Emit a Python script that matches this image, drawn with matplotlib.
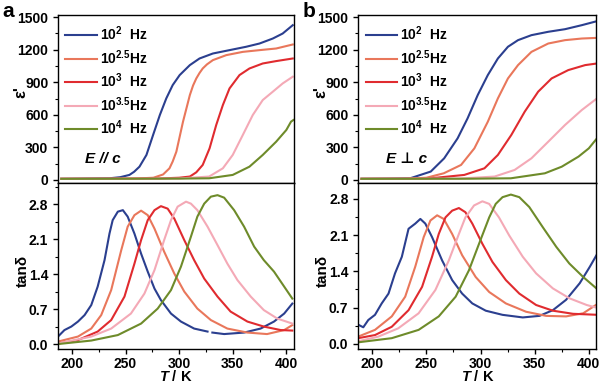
import numpy as np
import matplotlib
matplotlib.use("Agg")
import matplotlib.pyplot as plt
from matplotlib.ticker import MultipleLocator, FormatStrFormatter

plt.rcParams['font.family'] = ['Liberation Sans', 'DejaVu Sans']
plt.rcParams['font.weight'] = 'bold'
plt.rcParams['mathtext.fontset'] = 'custom'
plt.rcParams['mathtext.rm'] = 'Liberation Sans:bold'
plt.rcParams['mathtext.it'] = 'Liberation Sans:italic:bold'
plt.rcParams['mathtext.bf'] = 'Liberation Sans:bold'
plt.rcParams['mathtext.default'] = 'rm'

labels = ["10$^{2}$  Hz", "10$^{2.5}$Hz", "10$^{3}$  Hz", "10$^{3.5}$Hz", "10$^{4}$  Hz"]
colors = ['#2b3f8f', '#e9775b', '#e02b2f', '#f4a9b6', '#6e8b2a']

# ---- panel a, eps' (E // c) ----
a_eps_T = [
    [190, 210, 235, 245, 253.6, 258, 263, 269.5, 275.7, 282, 288, 294, 300.5, 310, 319, 331.5, 347, 362.5, 375, 387.4, 396.6, 406],
    [190, 230, 260, 276, 285, 291, 294, 297.4, 303.6, 310, 313, 316, 319, 322, 326, 331.5, 344, 359.4, 375, 390.5, 406],
    [190, 240, 280, 300, 310, 316, 322, 328.4, 334.6, 340.8, 347, 356.3, 365.6, 378, 390.5, 406],
    [190, 250, 300, 328, 340.8, 350, 359.4, 368.7, 378, 387.4, 396.6, 406],
    [190, 250, 300, 328, 350, 365.6, 378, 390.5, 400, 404.4, 406.6],
]
a_eps = [
    [10, 12, 15, 25, 46, 75, 122, 230, 414, 598, 751, 874, 966, 1058, 1119, 1165, 1196, 1227, 1257, 1303, 1349, 1426],
    [10, 11, 13, 20, 50, 107, 170, 260, 536, 782, 870, 935, 985, 1027, 1065, 1104, 1150, 1180, 1196, 1211, 1248],
    [10, 11, 13, 20, 31, 70, 138, 291, 506, 690, 843, 966, 1027, 1073, 1095, 1119],
    [10, 11, 13, 31, 107, 230, 414, 598, 736, 813, 889, 951],
    [10, 11, 12, 15, 46, 122, 230, 352, 460, 537, 552],
]

# ---- panel a, tan delta (nan = gap in the 10^2 Hz trace) ----
a_tan_T = [
    [187, 193, 199.4, 205.6, 211.8, 218, 224, 230.4, 235, 238, 242.8, 247.5, 252, 258.3, 264.5, 270.7, 277, 283, 292.4, 301.7, 314, 326.5, 328, 331, 342, 360.6, 376, 388.5, 398, 405.6],
    [187, 205.6, 218, 227.3, 236.6, 246, 252, 258.3, 264.5, 270.7, 277, 286, 295.5, 304.8, 317, 329.6, 345, 363.7, 382, 398, 405.6],
    [187, 205.6, 224, 236.6, 249, 258.3, 264.5, 270.7, 277, 283, 289.3, 295.5, 304.8, 314, 323.4, 335.8, 348, 363.7, 379, 394.8, 405.6],
    [187, 218, 236.6, 255, 267.6, 277, 286, 292.4, 298.6, 306.4, 311, 317, 326.5, 335.8, 345, 354.4, 366.8, 379, 391.6, 405.6],
    [187, 218, 242.8, 264.5, 280, 292.4, 301.7, 311, 317, 323.4, 329.6, 335.8, 342, 351.3, 360.6, 370, 379, 388.5, 398, 405.6],
]
a_tan = [
    [0.15, 0.28, 0.35, 0.45, 0.58, 0.78, 1.15, 1.68, 2.21, 2.48, 2.65, 2.68, 2.55, 2.21, 1.81, 1.45, 1.11, 0.88, 0.61, 0.45, 0.31, 0.25, np.nan, 0.23, 0.20, 0.23, 0.31, 0.45, 0.61, 0.81],
    [0.05, 0.15, 0.31, 0.58, 1.08, 1.88, 2.35, 2.58, 2.67, 2.58, 2.31, 1.85, 1.41, 1.05, 0.71, 0.48, 0.31, 0.23, 0.20, 0.28, 0.38],
    [0.01, 0.08, 0.25, 0.48, 0.95, 1.61, 2.08, 2.48, 2.68, 2.76, 2.71, 2.51, 2.08, 1.68, 1.31, 0.95, 0.65, 0.45, 0.35, 0.28, 0.27],
    [0.01, 0.15, 0.31, 0.61, 1.01, 1.48, 2.08, 2.48, 2.75, 2.85, 2.81, 2.68, 2.35, 1.98, 1.61, 1.28, 0.95, 0.68, 0.51, 0.41],
    [0.00, 0.07, 0.18, 0.41, 0.71, 1.08, 1.55, 2.15, 2.55, 2.81, 2.95, 2.98, 2.93, 2.68, 2.35, 1.95, 1.68, 1.45, 1.15, 0.91],
]

# ---- panel b, eps' (E perp c) ----
b_eps_T = [
    [190, 215, 235, 254, 266.4, 278.8, 288, 297.4, 306.7, 316, 325.3, 334.6, 347, 362.5, 378, 393.5, 407.5],
    [190, 230, 250, 266, 282, 294.3, 306.7, 316, 325.3, 334.6, 347, 362.5, 378, 393.5, 407.5],
    [190, 250, 285, 303.6, 316, 328.4, 340.8, 353.2, 365.6, 381, 396.6, 407.5],
    [190, 280, 313, 331.5, 347, 362.5, 378, 393.5, 407.5],
    [190, 290, 328, 359.4, 375, 390.5, 400, 407.5],
]
b_eps = [
    [10, 12, 15, 77, 199, 383, 567, 782, 966, 1119, 1227, 1288, 1334, 1365, 1389, 1426, 1463],
    [10, 11, 20, 61, 138, 291, 536, 751, 935, 1058, 1180, 1257, 1288, 1303, 1309],
    [10, 11, 46, 107, 230, 414, 629, 813, 935, 1012, 1058, 1073],
    [10, 12, 31, 92, 199, 352, 506, 644, 751],
    [10, 11, 15, 61, 122, 215, 291, 383],
]

# ---- panel b, tan delta ----
b_tan_T = [
    [187, 191.7, 196.3, 202.5, 208.7, 215, 221, 227.3, 233.5, 239.7, 244.4, 249, 255.2, 264.5, 273.8, 283, 292.4, 304.8, 320.3, 339, 354.4, 366.8, 379, 391.6, 401, 408.7],
    [187, 202.5, 218, 230.4, 239.7, 247.5, 253.7, 259.9, 266, 273.8, 283, 295.5, 308, 323.4, 342, 360.6, 379, 394.8, 408.7],
    [187, 202.5, 218, 233.5, 246, 255.2, 261.4, 267.6, 273.8, 280, 286, 292.4, 301.7, 311, 323.4, 335.8, 351.3, 366.8, 385.4, 408.7],
    [187, 205.6, 224, 242.8, 258.3, 270.7, 280, 286, 294, 301.7, 308, 317, 326.5, 339, 351.3, 366.8, 382, 398, 408.7],
    [187, 218, 242.8, 261.4, 277, 289.3, 298.6, 308, 314, 320.3, 328, 335.8, 345, 357.5, 370, 382, 394.8, 408.7],
]
b_tan = [
    [0.37, 0.32, 0.46, 0.56, 0.78, 0.97, 1.36, 1.68, 2.22, 2.32, 2.41, 2.32, 2.06, 1.61, 1.23, 0.97, 0.78, 0.64, 0.56, 0.51, 0.54, 0.65, 0.85, 1.17, 1.49, 1.77],
    [0.14, 0.27, 0.53, 0.91, 1.49, 2.06, 2.38, 2.48, 2.41, 2.12, 1.71, 1.29, 1.00, 0.78, 0.62, 0.54, 0.53, 0.59, 0.78],
    [0.11, 0.17, 0.33, 0.65, 1.10, 1.68, 2.12, 2.44, 2.57, 2.62, 2.54, 2.32, 1.93, 1.58, 1.23, 0.97, 0.75, 0.64, 0.58, 0.56],
    [0.05, 0.14, 0.30, 0.59, 1.04, 1.61, 2.12, 2.44, 2.67, 2.75, 2.70, 2.44, 2.09, 1.68, 1.36, 1.07, 0.88, 0.75, 0.69],
    [0.03, 0.11, 0.27, 0.53, 0.91, 1.42, 1.93, 2.44, 2.70, 2.83, 2.88, 2.83, 2.64, 2.25, 1.87, 1.55, 1.29, 1.04],
]

fig = plt.figure(figsize=(6.0, 3.84), dpi=100)


def style(ax, fs=10):
    ax.tick_params(direction='out', length=3.5, width=1, labelsize=fs)
    ax.tick_params(which='minor', direction='out', length=2, width=0.8)
    for s in ax.spines.values():
        s.set_linewidth(1.0)
    for lab in ax.get_xticklabels() + ax.get_yticklabels():
        lab.set_fontweight('bold')


def panel(left, width, eps_T, eps, tan_T, tan, tan_top, note, letter):
    ax1 = fig.add_axes([left, 0.523, width, 0.438])
    ax2 = fig.add_axes([left, 0.091, width, 0.432], sharex=ax1)
    for i in range(5):
        ax1.plot(eps_T[i], eps[i], color=colors[i], lw=1.5, label=labels[i])
        ax2.plot(tan_T[i], tan[i], color=colors[i], lw=1.5)
    ax1.set_xlim(187, 407)
    ax1.set_ylim(-30, 1520)
    ax1.yaxis.set_major_locator(MultipleLocator(300))
    ax1.yaxis.set_minor_locator(MultipleLocator(150))
    ax2.set_ylim(-0.1, tan_top)
    ax2.yaxis.set_major_locator(MultipleLocator(0.7))
    ax2.yaxis.set_minor_locator(MultipleLocator(0.35))
    ax2.xaxis.set_major_locator(MultipleLocator(50))
    ax2.xaxis.set_minor_locator(MultipleLocator(25))
    ax2.yaxis.set_major_formatter(FormatStrFormatter('%.1f'))
    style(ax1)
    style(ax2)
    ax2.tick_params(axis='x', pad=2)
    ax1.tick_params(axis='x', which='both', bottom=False, labelbottom=False)
    ax1.set_ylabel("ε'", fontsize=12, fontweight='bold')
    ax1.yaxis.set_label_coords(-0.125, 0.54)
    ax2.set_ylabel("tanδ", fontsize=11, fontweight='bold')
    ax2.yaxis.set_label_coords(-0.118, 0.47)
    ax2.set_xlabel("$\\mathit{T}$ / K", fontsize=10.5, fontweight='bold', labelpad=-1.5)
    leg = ax1.legend(loc='upper left', frameon=False, fontsize=10, handlelength=2.3,
                     handletextpad=0.2, labelspacing=0.35, borderaxespad=0.3,
                     bbox_to_anchor=(-0.01, 1.0))
    for t in leg.get_texts():
        t.set_fontweight('bold')
    ax1.text(0.115, 0.12, note, transform=ax1.transAxes, fontsize=11,
             fontweight='bold', fontstyle='italic')
    fig.text(left - 0.093, 0.956, letter, fontsize=15, fontweight='bold')


panel(0.0967, 0.393, a_eps_T, a_eps, a_tan_T, a_tan, 3.22, "E // c", "a")
panel(0.597, 0.397, b_eps_T, b_eps, b_tan_T, b_tan, 3.10, "E ⊥ c", "b")

fig.savefig("out.png", dpi=100)
